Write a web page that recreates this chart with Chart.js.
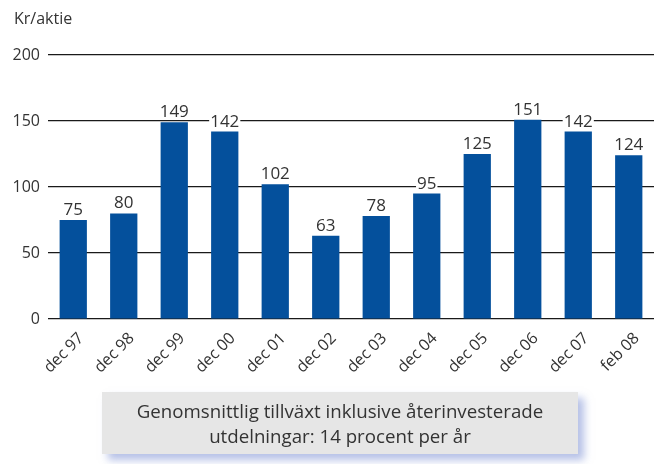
<!DOCTYPE html>
<html>
<head>
<meta charset="utf-8">
<script src="https://cdn.jsdelivr.net/npm/chart.js@4.4.1/dist/chart.umd.min.js"></script>
<style>
	body { margin: 0; background: #fff; font-family: 'Open Sans', sans-serif; }
	#wrap { position: relative; width: 670px; height: 464px; }
	#holder { position: absolute; left: 0; top: 0; width: 670px; height: 390px; }
	#unit { position: absolute; left: 14px; top: 7px; font-size: 16px; color: #333; }
	#note {
		position: absolute; left: 102px; top: 392px; width: 476px; height: 62px;
		background: #e6e6e6; color: #333; font-size: 18.7px; line-height: 25px;
		text-align: center; padding-top: 6px; box-sizing: border-box;
		box-shadow: 6px 6px 8px rgba(120, 140, 210, 0.55);
	}
</style>
</head>
<body>
<div id="wrap">
	<div id="holder"><canvas id="myChart"></canvas></div>
	<div id="unit">Kr/aktie</div>
	<div id="note">Genomsnittlig tillväxt inklusive återinvesterade<br>utdelningar: 14 procent per år</div>
</div>
<script>
const barColor = '#04509c'
const textColor = '#333333'

// categories and values
const periods = ['dec 97', 'dec 98', 'dec 99', 'dec 00', 'dec 01', 'dec 02', 'dec 03', 'dec 04', 'dec 05', 'dec 06', 'dec 07', 'feb 08']
const values = [75, 80, 149, 142, 102, 63, 78, 95, 125, 151, 142, 124]
const yTicks = [0, 50, 100, 150, 200]

// value labels above the bars, white behind so gridlines are cut
const valueLabels = {
	id: 'valueLabels',
	afterDatasetsDraw(chart) {
		var ctx = chart.ctx
		var meta = chart.getDatasetMeta(0)
		ctx.save()
		ctx.font = '17px "Open Sans"'
		ctx.textAlign = 'center'
		ctx.textBaseline = 'alphabetic'
		meta.data.forEach(function (bar, i) {
			var txt = String(values[i])
			var w = ctx.measureText(txt).width
			var y = bar.y - 5
			ctx.fillStyle = '#ffffff'
			ctx.fillRect(bar.x - w / 2 - 1, y - 13, w + 2, 15)
			ctx.fillStyle = textColor
			ctx.fillText(txt, bar.x, y)
		})
		ctx.restore()
	}
}

var ctx = document.getElementById('myChart')
new Chart(ctx, {
	type: 'bar',
	data: {
		labels: periods,
		datasets: [{
			data: values,
			backgroundColor: barColor,
			barPercentage: 0.54,
			categoryPercentage: 1
		}]
	},
	options: {
		responsive: true,
		maintainAspectRatio: false,
		animation: false,
		layout: { padding: { top: 55, right: 16, left: 0, bottom: 0 } },
		plugins: {
			legend: { display: false },
			tooltip: { enabled: false }
		},
		scales: {
			x: {
				grid: { display: false },
				border: { display: false },
				ticks: {
					color: textColor,
					font: { family: 'Open Sans', size: 16 },
					minRotation: 45,
					maxRotation: 45,
					padding: 2,
					labelOffset: 8
				},
				afterFit(scale) { scale.height = 71 }
			},
			y: {
				min: 0,
				max: 200,
				afterBuildTicks(scale) { scale.ticks = yTicks.map(v => ({ value: v })) },
				grid: { color: '#1a1a1a', lineWidth: 1.2, drawTicks: false },
				border: { display: false },
				ticks: {
					color: textColor,
					font: { family: 'Open Sans', size: 16 },
					padding: 8
				},
				afterFit(scale) { scale.width = 48 }
			}
		}
	},
	plugins: [valueLabels]
})
</script>
</body>
</html>
